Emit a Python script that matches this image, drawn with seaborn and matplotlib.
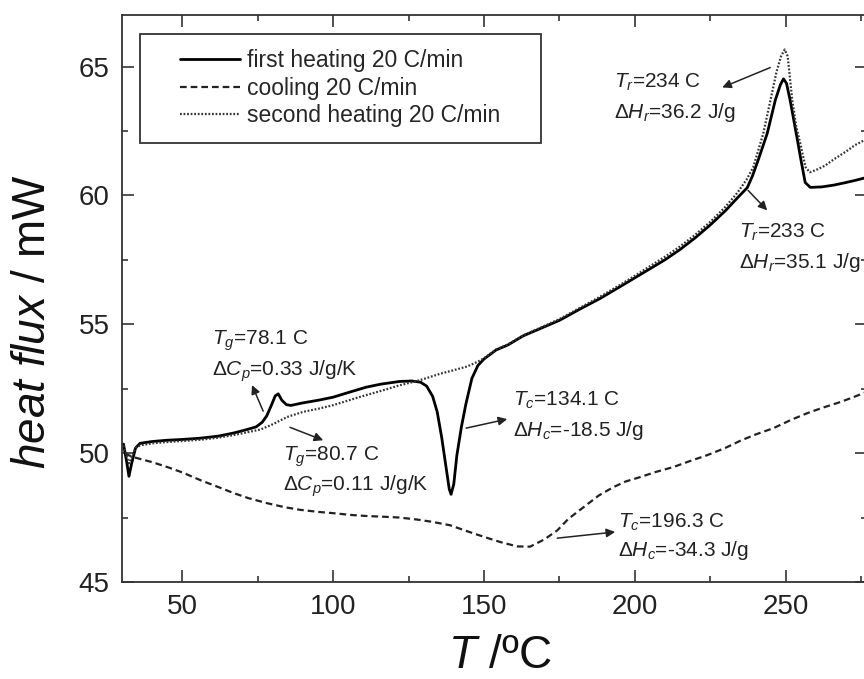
import numpy as np
import pandas as pd
import matplotlib
matplotlib.use("Agg")
import matplotlib.pyplot as plt
from matplotlib.patches import Rectangle
from matplotlib.ticker import MultipleLocator
import seaborn as sns

# DSC traces: temperature (°C) and heat flux (mW)
T_first = [30.5, 31.5, 32.3, 33.2, 34.5, 36, 40, 45, 50, 56, 62, 67, 71, 74.5, 76.5, 78,
           79.5, 80.8, 81.8, 83, 84.5, 86, 90, 95, 100, 105, 111, 116, 122, 126, 129, 131,
           133, 134.5, 136, 137.5, 138.5, 139.1, 140, 141, 142.5, 144, 146, 148, 150, 154,
           158, 163, 169, 175, 182, 188.5, 195, 200, 205, 210, 215, 220, 225, 230, 234,
           237.3, 239, 241, 243.9, 246.6, 248.3, 249.3, 250.3, 251.5, 252.6, 254, 254.9,
           256.5, 258.2, 262, 266, 270, 273, 277]
q_first = [50.35, 49.7, 49.1, 49.6, 50.2, 50.38, 50.45, 50.5, 50.53, 50.58, 50.66, 50.78,
           50.9, 51.02, 51.2, 51.45, 51.85, 52.22, 52.3, 52.05, 51.88, 51.85, 51.95, 52.05,
           52.17, 52.35, 52.56, 52.68, 52.78, 52.8, 52.75, 52.6, 52.2, 51.6, 50.6, 49.4,
           48.6, 48.4, 48.8, 49.9, 51.0, 51.9, 52.9, 53.4, 53.65, 54.0, 54.2, 54.55, 54.85,
           55.15, 55.6, 56.0, 56.45, 56.8, 57.15, 57.5, 57.9, 58.35, 58.85, 59.4, 59.9,
           60.3, 60.75, 61.4, 62.4, 63.7, 64.3, 64.52, 64.35, 63.7, 63.0, 62.1, 61.5, 60.5,
           60.31, 60.33, 60.4, 60.5, 60.58, 60.7]

T_cool = [31, 33.6, 40, 45, 50, 56, 62, 67, 72, 78, 84, 89, 95, 100, 106, 111, 117, 122,
          128, 133, 138.8, 144.4, 150, 155.4, 161, 165.3, 170, 174.3, 178, 183, 188, 192.9,
          197, 201.8, 207, 212.8, 218, 224, 230, 235, 240, 246, 252, 257.2, 262, 268.1,
          272, 277]
q_cool = [49.98, 49.85, 49.65, 49.46, 49.25, 48.95, 48.68, 48.45, 48.25, 48.06, 47.9, 47.8,
          47.72, 47.67, 47.6, 47.56, 47.53, 47.5, 47.42, 47.33, 47.2, 46.97, 46.75, 46.55,
          46.38, 46.37, 46.65, 47.0, 47.45, 47.9, 48.35, 48.68, 48.9, 49.07, 49.27, 49.46,
          49.68, 49.92, 50.2, 50.48, 50.72, 50.97, 51.3, 51.55, 51.75, 51.98, 52.15, 52.38]

T_second = [30.5, 31.5, 32.3, 33.2, 34.5, 36, 40, 45, 50, 56, 62, 67, 72, 76, 80, 84.7, 90,
            95, 100, 108, 116.6, 122, 128.8, 135.5, 140, 144.4, 148, 150, 154, 158, 163,
            169, 175, 182, 188.5, 195, 200, 205, 210, 215, 220, 225, 230, 234, 237, 239.3,
            242.6, 245, 247, 248.5, 249.7, 250.7, 252.2, 253.5, 254.9, 256.6, 258, 260, 263,
            266, 270, 273, 277]
q_second = [50.3, 49.9, 49.6, 49.85, 50.2, 50.3, 50.38, 50.43, 50.47, 50.52, 50.6, 50.7,
            50.82, 50.92, 51.12, 51.4, 51.6, 51.72, 51.86, 52.15, 52.44, 52.63, 52.83, 53.08,
            53.22, 53.36, 53.55, 53.68, 54.02, 54.22, 54.57, 54.88, 55.2, 55.65, 56.07,
            56.52, 56.88, 57.25, 57.62, 58.02, 58.47, 58.97, 59.55, 60.1, 60.6, 61.1, 62.4,
            63.7, 64.8, 65.4, 65.66, 65.4, 63.7, 62.7, 62.0, 61.1, 60.9, 60.98, 61.15, 61.4,
            61.7, 61.95, 62.2]

series_labels = ["first heating 20 C/min", "cooling 20 C/min", "second heating 20 C/min"]

# annotation texts: (line 1, line 2, text x, baseline y line 1, baseline y line 2, arrow tail, arrow head)
annotations = [
    (r"$\mathit{T}_g$=78.1 C", r"Δ$\mathit{C}_p$=0.33 J/g/K", 59.9, 54.2, 53.0, (76.8, 51.63), (73.1, 52.64)),
    (r"$\mathit{T}_g$=80.7 C", r"Δ$\mathit{C}_p$=0.11 J/g/K", 83.4, 49.7, 48.55, (85.7, 51.0), (96.7, 50.5)),
    (r"$\mathit{T}_c$=134.1 C", r"Δ$\mathit{H}_c$=-18.5 J/g", 159.7, 51.83, 50.67, (144.1, 50.97), (157.7, 51.32)),
    (r"$\mathit{T}_c$=196.3 C", r"Δ$\mathit{H}_c$=-34.3 J/g", 194.5, 47.1, 46.02, (174.3, 46.7), (193.5, 46.94)),
    (r"$\mathit{T}_r$=234 C", r"Δ$\mathit{H}_r$=36.2 J/g", 193.2, 64.16, 63.0, (244.9, 64.96), (229.0, 64.19)),
    (r"$\mathit{T}_r$=233 C", r"Δ$\mathit{H}_r$=35.1 J/g", 234.6, 58.34, 57.18, (237.6, 60.19), (243.9, 59.42)),
]

sns.set_style("ticks")
plt.rcParams["font.family"] = ["Liberation Sans", "DejaVu Sans"]
plt.rcParams["mathtext.fontset"] = "custom"
plt.rcParams["mathtext.rm"] = "Liberation Sans"
plt.rcParams["mathtext.it"] = "Liberation Sans:italic"
plt.rcParams["mathtext.bf"] = "Liberation Sans:bold"

fig = plt.figure(figsize=(8.64, 6.79), dpi=100)
ax = fig.add_axes([0.1412, 0.1429, 0.8623, 0.835])

first = pd.DataFrame({"T": T_first, "q": q_first})
cool = pd.DataFrame({"T": T_cool, "q": q_cool})
second = pd.DataFrame({"T": T_second, "q": q_second})

sns.lineplot(data=first, x="T", y="q", ax=ax, color="black", lw=2.0, sort=False,
             estimator=None, label=series_labels[0], legend=False)
sns.lineplot(data=cool, x="T", y="q", ax=ax, color="#222222", lw=1.6, sort=False,
             estimator=None, linestyle=(0, (3, 1.8)), label=series_labels[1], legend=False)
sns.lineplot(data=second, x="T", y="q", ax=ax, color="#333333", lw=1.6, sort=False,
             estimator=None, linestyle=(0, (0.8, 0.8)), label=series_labels[2], legend=False)

ax.set_xlim(30, 277)
ax.set_ylim(45, 67)
ax.xaxis.set_major_locator(MultipleLocator(50))
ax.xaxis.set_minor_locator(MultipleLocator(25))
ax.yaxis.set_major_locator(MultipleLocator(5))
ax.yaxis.set_minor_locator(MultipleLocator(2.5))
ax.tick_params(which="both", direction="in", top=True, right=True, width=1.2, colors="#333333")
ax.tick_params(which="major", length=8.6, labelsize=20, pad=9, labelcolor="#222222")
ax.tick_params(which="minor", length=4.5)
for sp in ax.spines.values():
    sp.set_linewidth(1.3)
    sp.set_color("#333333")

ax.set_xlabel(r"$\mathit{T}$ /ºC", fontsize=33, labelpad=10, color="#111111", x=0.507)
ax.set_ylabel(r"$\mathit{heat\ flux}$ / mW", fontsize=33, labelpad=17, color="#111111", y=0.46)

# legend box
ax.add_patch(Rectangle((36, 62.05), 133, 4.23, fill=False, lw=1.3, edgecolor="#333333", zorder=5))
handles, labels = ax.get_legend_handles_labels()
leg = ax.legend(handles, labels, loc="upper left", bbox_to_anchor=(0.078, 0.94),
                frameon=False, fontsize=16.5, handlelength=2.6, handletextpad=0.3,
                labelspacing=0.2, borderpad=0, borderaxespad=0)

for l1, l2, tx, ty1, ty2, tail, head in annotations:
    ax.text(tx, ty1, l1, fontsize=15, va="baseline", ha="left", color="#222222")
    ax.text(tx, ty2, l2, fontsize=15, va="baseline", ha="left", color="#222222")
    ax.annotate("", xy=head, xytext=tail,
                arrowprops=dict(arrowstyle="-|>", lw=1.1, color="#222222", mutation_scale=13,
                                shrinkA=0, shrinkB=0))

fig.savefig("out.png", dpi=100)
